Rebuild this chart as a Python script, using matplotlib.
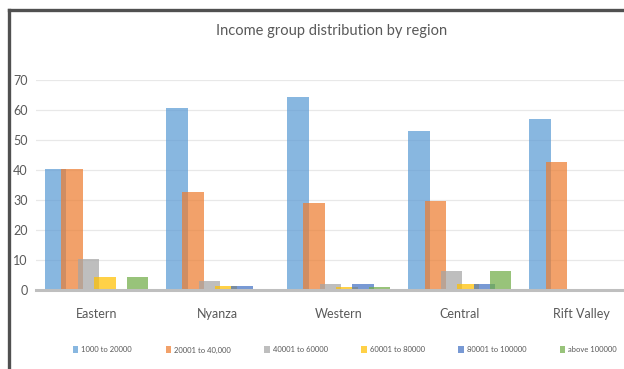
import matplotlib.pyplot as plt
import numpy as np
from matplotlib.lines import Line2D

plt.rcParams['font.family'] = ['Lato', 'DejaVu Sans']

regions = ['Eastern', 'Nyanza', 'Western', 'Central', 'Rift Valley']
groups = ['1000 to 20000', '20001 to 40,000', '40001 to 60000',
          '60001 to 80000', '80001 to 100000', 'above 100000']

# share of respondents (%) per income group, one list per group, in region order
g_1000_20000 = [40.3, 60.8, 64.3, 53.0, 57.0]
g_20001_40000 = [40.3, 32.8, 29.0, 29.8, 42.8]
g_40001_60000 = [10.3, 2.9, 2.0, 6.3, 0]
g_60001_80000 = [4.2, 1.3, 1.0, 2.0, 0]
g_80001_100000 = [0, 1.3, 2.0, 2.0, 0]
g_above_100000 = [4.2, 0, 0.9, 6.3, 0]

series = [g_1000_20000, g_20001_40000, g_40001_60000,
          g_60001_80000, g_80001_100000, g_above_100000]
colors = ['#5B9BD5', '#ED7D31', '#A5A5A5', '#FFC000', '#4472C4', '#70AD47']
text_color = '#595959'

W, H = 624, 369
fig = plt.figure(figsize=(W / 100, H / 100), dpi=100)
fig.patch.set_facecolor('white')

# plot area runs off the right edge a little
ax = fig.add_axes([36 / W, (H - 290) / H, (641.5 - 36) / W, 210 / H])

x = np.arange(len(regions))
step = 0.135
width = 0.178
for i, (vals, c) in enumerate(zip(series, colors)):
    ax.bar(x + (i - 2.5) * step, vals, width, color=c, alpha=0.72,
           label=groups[i], zorder=3)

ax.set_xlim(-0.5, 4.5)
ax.set_ylim(0, 70)
ax.set_yticks(range(0, 71, 10))
ax.set_xticks(x)
ax.set_xticklabels(regions)
ax.grid(axis='y', color='#e8e8e8', linewidth=0.9, zorder=0)
for s in ['top', 'right', 'left']:
    ax.spines[s].set_visible(False)
ax.spines['bottom'].set_color('#bfbfbf')
ax.spines['bottom'].set_linewidth(2.2)
ax.spines['bottom'].set_zorder(4)
ax.tick_params(axis='both', length=0, colors=text_color, labelsize=9)
ax.tick_params(axis='x', pad=13)
ax.tick_params(axis='y', pad=6)

fig.text(332 / W, 1 - 31 / H, 'Income group distribution by region',
         ha='center', va='center', fontsize=10.5, color=text_color)

leg = fig.legend(loc='center', bbox_to_anchor=(345 / W, 1 - 350 / H), ncol=6,
                 frameon=False, fontsize=5.5, handlelength=0.7, handleheight=1.0,
                 handletextpad=0.4, columnspacing=4.4, labelcolor=text_color)

# dark frame along the top and left edges
fig.add_artist(Line2D([8.5 / W, 1.0], [1 - 9.5 / H, 1 - 9.5 / H], color='#505050',
                      linewidth=2.4, transform=fig.transFigure))
fig.add_artist(Line2D([8.5 / W, 8.5 / W], [0, 1 - 9.5 / H], color='#505050',
                      linewidth=2.4, transform=fig.transFigure))

fig.savefig('out.png', dpi=100)
